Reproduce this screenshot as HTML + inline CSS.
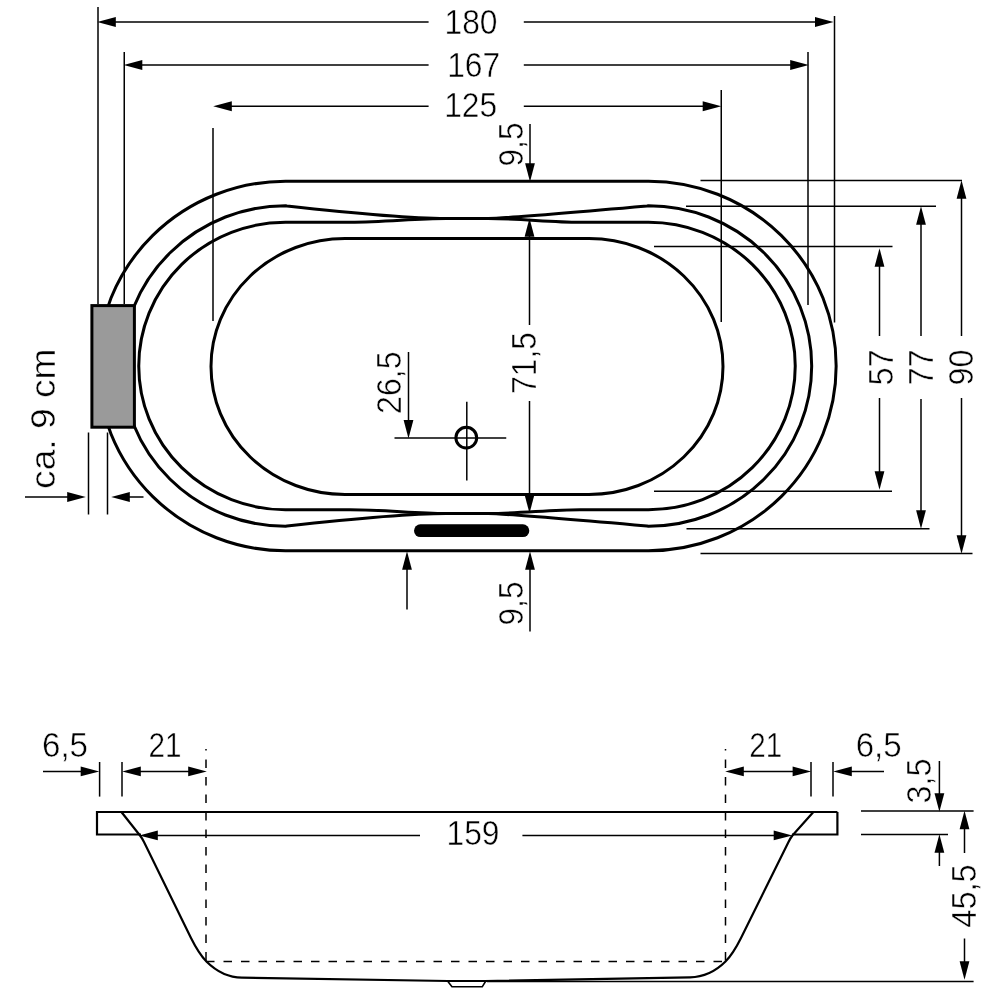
<!DOCTYPE html>
<html lang="de"><head><meta charset="utf-8"><title>Badewanne 180 x 90</title>
<style>
html,body{margin:0;padding:0;background:#fff;}
svg{display:block;}
text{font-family:"Liberation Sans",sans-serif;fill:#000;stroke:#fff;stroke-width:0.5px;}
svg{transform:translateZ(0);will-change:transform;}
</style></head><body>
<svg width="1000" height="1000" viewBox="0 0 1000 1000">
<rect width="1000" height="1000" fill="#fff"/>
<path d="M285.5,181.25 H648.5 A187.75,184.75 0 0 1 648.5,550.75 H285.5 A187.75,184.75 0 0 1 285.5,181.25 Z" fill="none" stroke="#000" stroke-width="3.0" stroke-linejoin="round"/>
<path d="M345,238.5 H589 A134,128 0 0 1 589,494.5 H345 A134,128 0 0 1 345,238.5 Z" fill="none" stroke="#000" stroke-width="3.0" stroke-linejoin="round"/>
<path d="M285.5,205.75 L287,206 Q400,218.5 446,218.5 H488 Q505,218.5 647,206 L648.5,205.75 A163.25,160.25 0 0 1 648.5,526.25 L647,526 Q505,513.5 488,513.5 H446 Q400,513.5 287,526 L285.5,526.25 A163.25,160.25 0 0 1 285.5,205.75 Z" fill="none" stroke="#000" stroke-width="3.0" stroke-linejoin="round"/>
<path d="M285.5,222.25 H350 C385,222.25 415,218.5 446,218.5 H488 C520,218.5 550,222.25 580,222.25 H648.5 A146.75,143.75 0 0 1 648.5,509.75 H580 C550,509.75 520,513.5 488,513.5 H446 C415,513.5 385,509.75 350,509.75 H285.5 A146.75,143.75 0 0 1 285.5,222.25 Z" fill="none" stroke="#000" stroke-width="3.0" stroke-linejoin="round"/>
<line x1="98" y1="7" x2="98" y2="304" stroke="#000" stroke-width="1.5" />
<line x1="124.25" y1="52" x2="124.25" y2="304" stroke="#000" stroke-width="1.5" />
<line x1="213" y1="128" x2="213" y2="321" stroke="#000" stroke-width="1.5" />
<line x1="721.25" y1="90" x2="721.25" y2="322" stroke="#000" stroke-width="1.5" />
<line x1="808" y1="52" x2="808" y2="305" stroke="#000" stroke-width="1.5" />
<line x1="834.5" y1="16" x2="834.5" y2="322.5" stroke="#000" stroke-width="1.5" />
<line x1="114.8" y1="22" x2="428.6" y2="22" stroke="#000" stroke-width="1.5" />
<line x1="523.8" y1="22" x2="816.0" y2="22" stroke="#000" stroke-width="1.5" />
<polygon points="97.2,22 115.8,17.1 115.8,26.9" fill="#000"/>
<polygon points="833.5999999999999,22 815.0,17.1 815.0,26.9" fill="#000"/>
<line x1="141.3" y1="65" x2="428.6" y2="65" stroke="#000" stroke-width="1.5" />
<line x1="523.8" y1="65" x2="791.2" y2="65" stroke="#000" stroke-width="1.5" />
<polygon points="123.7,65 142.3,60.1 142.3,69.9" fill="#000"/>
<polygon points="808.8,65 790.2,60.1 790.2,69.9" fill="#000"/>
<line x1="230.8" y1="106.25" x2="428.6" y2="106.25" stroke="#000" stroke-width="1.5" />
<line x1="523.8" y1="106.25" x2="703.7" y2="106.25" stroke="#000" stroke-width="1.5" />
<polygon points="213.2,106.25 231.8,101.35 231.8,111.15" fill="#000"/>
<polygon points="721.3,106.25 702.7,101.35 702.7,111.15" fill="#000"/>
<text x="471" y="34.2" text-anchor="middle" font-size="34.5" textLength="53" lengthAdjust="spacingAndGlyphs">180</text>
<text x="473.7" y="76.8" text-anchor="middle" font-size="34.5" textLength="53" lengthAdjust="spacingAndGlyphs">167</text>
<text x="470.7" y="117" text-anchor="middle" font-size="34.5" textLength="53" lengthAdjust="spacingAndGlyphs">125</text>
<line x1="700.5" y1="180.5" x2="962" y2="180.5" stroke="#000" stroke-width="1.5" />
<line x1="686" y1="206.25" x2="936" y2="206.25" stroke="#000" stroke-width="1.5" />
<line x1="654" y1="246.5" x2="892.5" y2="246.5" stroke="#000" stroke-width="1.5" />
<line x1="654" y1="491.25" x2="892" y2="491.25" stroke="#000" stroke-width="1.5" />
<line x1="686.5" y1="528.75" x2="929.5" y2="528.75" stroke="#000" stroke-width="1.5" />
<line x1="700.5" y1="553.5" x2="972.5" y2="553.5" stroke="#000" stroke-width="1.5" />
<line x1="879.5" y1="265.8" x2="879.5" y2="336" stroke="#000" stroke-width="1.5" />
<line x1="879.5" y1="398" x2="879.5" y2="472.2" stroke="#000" stroke-width="1.5" />
<polygon points="879.5,248.2 874.6,266.8 884.4,266.8" fill="#000"/>
<polygon points="879.5,489.8 874.6,471.2 884.4,471.2" fill="#000"/>
<text transform="translate(892.5,367.5) rotate(-90)" text-anchor="middle" font-size="34.5" textLength="36" lengthAdjust="spacingAndGlyphs">57</text>
<line x1="921" y1="223.8" x2="921" y2="336" stroke="#000" stroke-width="1.5" />
<line x1="921" y1="399" x2="921" y2="511.2" stroke="#000" stroke-width="1.5" />
<polygon points="921,206.2 916.1,224.8 925.9,224.8" fill="#000"/>
<polygon points="921,528.8 916.1,510.2 925.9,510.2" fill="#000"/>
<text transform="translate(932.7,367.5) rotate(-90)" text-anchor="middle" font-size="34.5" textLength="36" lengthAdjust="spacingAndGlyphs">77</text>
<line x1="961.5" y1="197.8" x2="961.5" y2="336" stroke="#000" stroke-width="1.5" />
<line x1="961.5" y1="398" x2="961.5" y2="536.2" stroke="#000" stroke-width="1.5" />
<polygon points="961.5,180.2 956.6,198.8 966.4,198.8" fill="#000"/>
<polygon points="961.5,553.8 956.6,535.2 966.4,535.2" fill="#000"/>
<text transform="translate(972.7,367.5) rotate(-90)" text-anchor="middle" font-size="34.5" textLength="36" lengthAdjust="spacingAndGlyphs">90</text>
<line x1="530" y1="124" x2="530" y2="164.2" stroke="#000" stroke-width="1.5" />
<polygon points="530,181.8 525.1,163.2 534.9,163.2" fill="#000"/>
<text transform="translate(523.2,144.5) rotate(-90)" text-anchor="middle" font-size="34.5" textLength="44" lengthAdjust="spacingAndGlyphs">9,5</text>
<line x1="529.5" y1="235.8" x2="529.5" y2="325" stroke="#000" stroke-width="1.5" />
<line x1="529.5" y1="401" x2="529.5" y2="495.7" stroke="#000" stroke-width="1.5" />
<polygon points="529.5,218.2 524.6,236.8 534.4,236.8" fill="#000"/>
<polygon points="529.5,513.3 524.6,494.7 534.4,494.7" fill="#000"/>
<text transform="translate(536,363) rotate(-90)" text-anchor="middle" font-size="34.5" textLength="61.5" lengthAdjust="spacingAndGlyphs">71,5</text>
<line x1="530" y1="568.8" x2="530" y2="631.6" stroke="#000" stroke-width="1.5" />
<polygon points="530,551.2 525.1,569.8 534.9,569.8" fill="#000"/>
<text transform="translate(523,603.5) rotate(-90)" text-anchor="middle" font-size="34.5" textLength="44" lengthAdjust="spacingAndGlyphs">9,5</text>
<line x1="407" y1="568.8" x2="407" y2="609.6" stroke="#000" stroke-width="1.5" />
<polygon points="407,551.2 402.1,569.8 411.9,569.8" fill="#000"/>
<circle cx="466.3" cy="437.7" r="10.4" fill="none" stroke="#000" stroke-width="3"/>
<line x1="394.5" y1="438" x2="506.25" y2="438" stroke="#000" stroke-width="1.5" />
<line x1="466.8" y1="401.75" x2="466.8" y2="480.5" stroke="#000" stroke-width="1.5" />
<line x1="408.5" y1="352" x2="408.5" y2="420.9" stroke="#000" stroke-width="1.5" />
<polygon points="408.5,438.5 403.6,419.9 413.4,419.9" fill="#000"/>
<text transform="translate(401,382.7) rotate(-90)" text-anchor="middle" font-size="34.5" textLength="62.5" lengthAdjust="spacingAndGlyphs">26,5</text>
<rect x="414" y="524.3" width="115.3" height="12.8" rx="6.4" fill="#000"/>
<rect x="91.9" y="305.6" width="42.5" height="121.6" fill="#9a9a9a" stroke="#000" stroke-width="3"/>
<text transform="translate(55.3,418.7) rotate(-90)" text-anchor="middle" font-size="35.8" textLength="140.5" lengthAdjust="spacingAndGlyphs">ca. 9 cm</text>
<line x1="25" y1="497" x2="68.2" y2="497" stroke="#000" stroke-width="1.5" />
<polygon points="85.8,497 67.2,492.1 67.2,501.9" fill="#000"/>
<line x1="88.5" y1="432.5" x2="88.5" y2="514.5" stroke="#000" stroke-width="1.5" />
<line x1="107.5" y1="432.5" x2="107.5" y2="514.5" stroke="#000" stroke-width="1.5" />
<polygon points="111.2,497 129.8,492.1 129.8,501.9" fill="#000"/>
<line x1="128.8" y1="497" x2="143.5" y2="497" stroke="#000" stroke-width="1.5" />
<path d="M837.4,812 H97 V834.5 H141" fill="none" stroke="#000" stroke-width="2.2"/>
<path d="M792,834.5 H837.4 V812" fill="none" stroke="#000" stroke-width="2.2"/>
<path d="M121.4,812 L140,835.5 C142,838 143,840 144,842 L191,938 C197,950 201,956 206.4,961.5 C216,971 228,977.6 242,977.6 L448,981 L485,981 L690,977.3 C705,977 716,971 725.5,961.5 C731,956 735,950 741,938 L788.5,842 C789.5,840 790.5,838 792.4,835.5 L813.4,812" fill="none" stroke="#000" stroke-width="2.2" stroke-linejoin="round"/>
<path d="M447.5,981 L452,986.8 H482.2 L485.8,981" fill="none" stroke="#000" stroke-width="1.6" stroke-linejoin="round"/>
<line x1="206" y1="749" x2="206" y2="961.4" stroke="#000" stroke-width="1.5" stroke-dasharray="8.5 9" stroke-dashoffset="7"/>
<line x1="725.5" y1="749" x2="725.5" y2="961.4" stroke="#000" stroke-width="1.5" stroke-dasharray="8.5 9" stroke-dashoffset="7"/>
<line x1="206" y1="961.4" x2="725.5" y2="961.4" stroke="#000" stroke-width="1.5" stroke-dasharray="8.5 9"/>
<line x1="156.8" y1="835.4" x2="420" y2="835.4" stroke="#000" stroke-width="1.5" />
<line x1="522.4" y1="835.4" x2="774.7" y2="835.4" stroke="#000" stroke-width="1.5" />
<polygon points="139.2,835.4 157.8,830.5 157.8,840.3" fill="#000"/>
<polygon points="792.3,835.4 773.7,830.5 773.7,840.3" fill="#000"/>
<text x="473" y="844.6" text-anchor="middle" font-size="34.5" textLength="53" lengthAdjust="spacingAndGlyphs">159</text>
<line x1="43" y1="771.4" x2="81.7" y2="771.4" stroke="#000" stroke-width="1.5" />
<polygon points="99.3,771.4 80.7,766.5 80.7,776.3" fill="#000"/>
<line x1="99.6" y1="762" x2="99.6" y2="796.6" stroke="#000" stroke-width="1.5" />
<line x1="122" y1="762" x2="122" y2="796.6" stroke="#000" stroke-width="1.5" />
<polygon points="122.2,771.4 140.8,766.5 140.8,776.3" fill="#000"/>
<polygon points="206.8,771.4 188.2,766.5 188.2,776.3" fill="#000"/>
<line x1="139.8" y1="771.4" x2="189.2" y2="771.4" stroke="#000" stroke-width="1.5" />
<text x="65" y="757" text-anchor="middle" font-size="34.5" textLength="46" lengthAdjust="spacingAndGlyphs">6,5</text>
<text x="165" y="757" text-anchor="middle" font-size="34.5" textLength="33" lengthAdjust="spacingAndGlyphs">21</text>
<polygon points="725.2,771.4 743.8,766.5 743.8,776.3" fill="#000"/>
<polygon points="811.1999999999999,771.4 792.6,766.5 792.6,776.3" fill="#000"/>
<line x1="742.8" y1="771.4" x2="793.6" y2="771.4" stroke="#000" stroke-width="1.5" />
<line x1="811" y1="762" x2="811" y2="796.6" stroke="#000" stroke-width="1.5" />
<line x1="833" y1="762" x2="833" y2="796.6" stroke="#000" stroke-width="1.5" />
<polygon points="833.2,771.4 851.8,766.5 851.8,776.3" fill="#000"/>
<line x1="850.8" y1="771.4" x2="884" y2="771.4" stroke="#000" stroke-width="1.5" />
<text x="765.7" y="757" text-anchor="middle" font-size="34.5" textLength="33" lengthAdjust="spacingAndGlyphs">21</text>
<text x="878.7" y="757" text-anchor="middle" font-size="34.5" textLength="46" lengthAdjust="spacingAndGlyphs">6,5</text>
<line x1="861" y1="811" x2="973.6" y2="811" stroke="#000" stroke-width="1.5" />
<line x1="861" y1="834.5" x2="948" y2="834.5" stroke="#000" stroke-width="1.5" />
<line x1="939.4" y1="761" x2="939.4" y2="794.2" stroke="#000" stroke-width="1.5" />
<polygon points="939.4,811.8 934.5,793.2 944.3,793.2" fill="#000"/>
<polygon points="939.4,834.2 934.5,852.8 944.3,852.8" fill="#000"/>
<line x1="939.4" y1="851.8" x2="939.4" y2="866" stroke="#000" stroke-width="1.5" />
<text transform="translate(931,781) rotate(-90)" text-anchor="middle" font-size="34.5" textLength="45" lengthAdjust="spacingAndGlyphs">3,5</text>
<polygon points="964.5,810.7 959.6,829.3 969.4,829.3" fill="#000"/>
<line x1="964.5" y1="828.3" x2="964.5" y2="853" stroke="#000" stroke-width="1.5" />
<line x1="964.5" y1="938.5" x2="964.5" y2="962.2" stroke="#000" stroke-width="1.5" />
<polygon points="964.5,979.8 959.6,961.2 969.4,961.2" fill="#000"/>
<text transform="translate(976,896) rotate(-90)" text-anchor="middle" font-size="34.5" textLength="63.5" lengthAdjust="spacingAndGlyphs">45,5</text>
<line x1="487" y1="981.4" x2="973.6" y2="981.4" stroke="#000" stroke-width="1.5" />
</svg>
</body></html>
